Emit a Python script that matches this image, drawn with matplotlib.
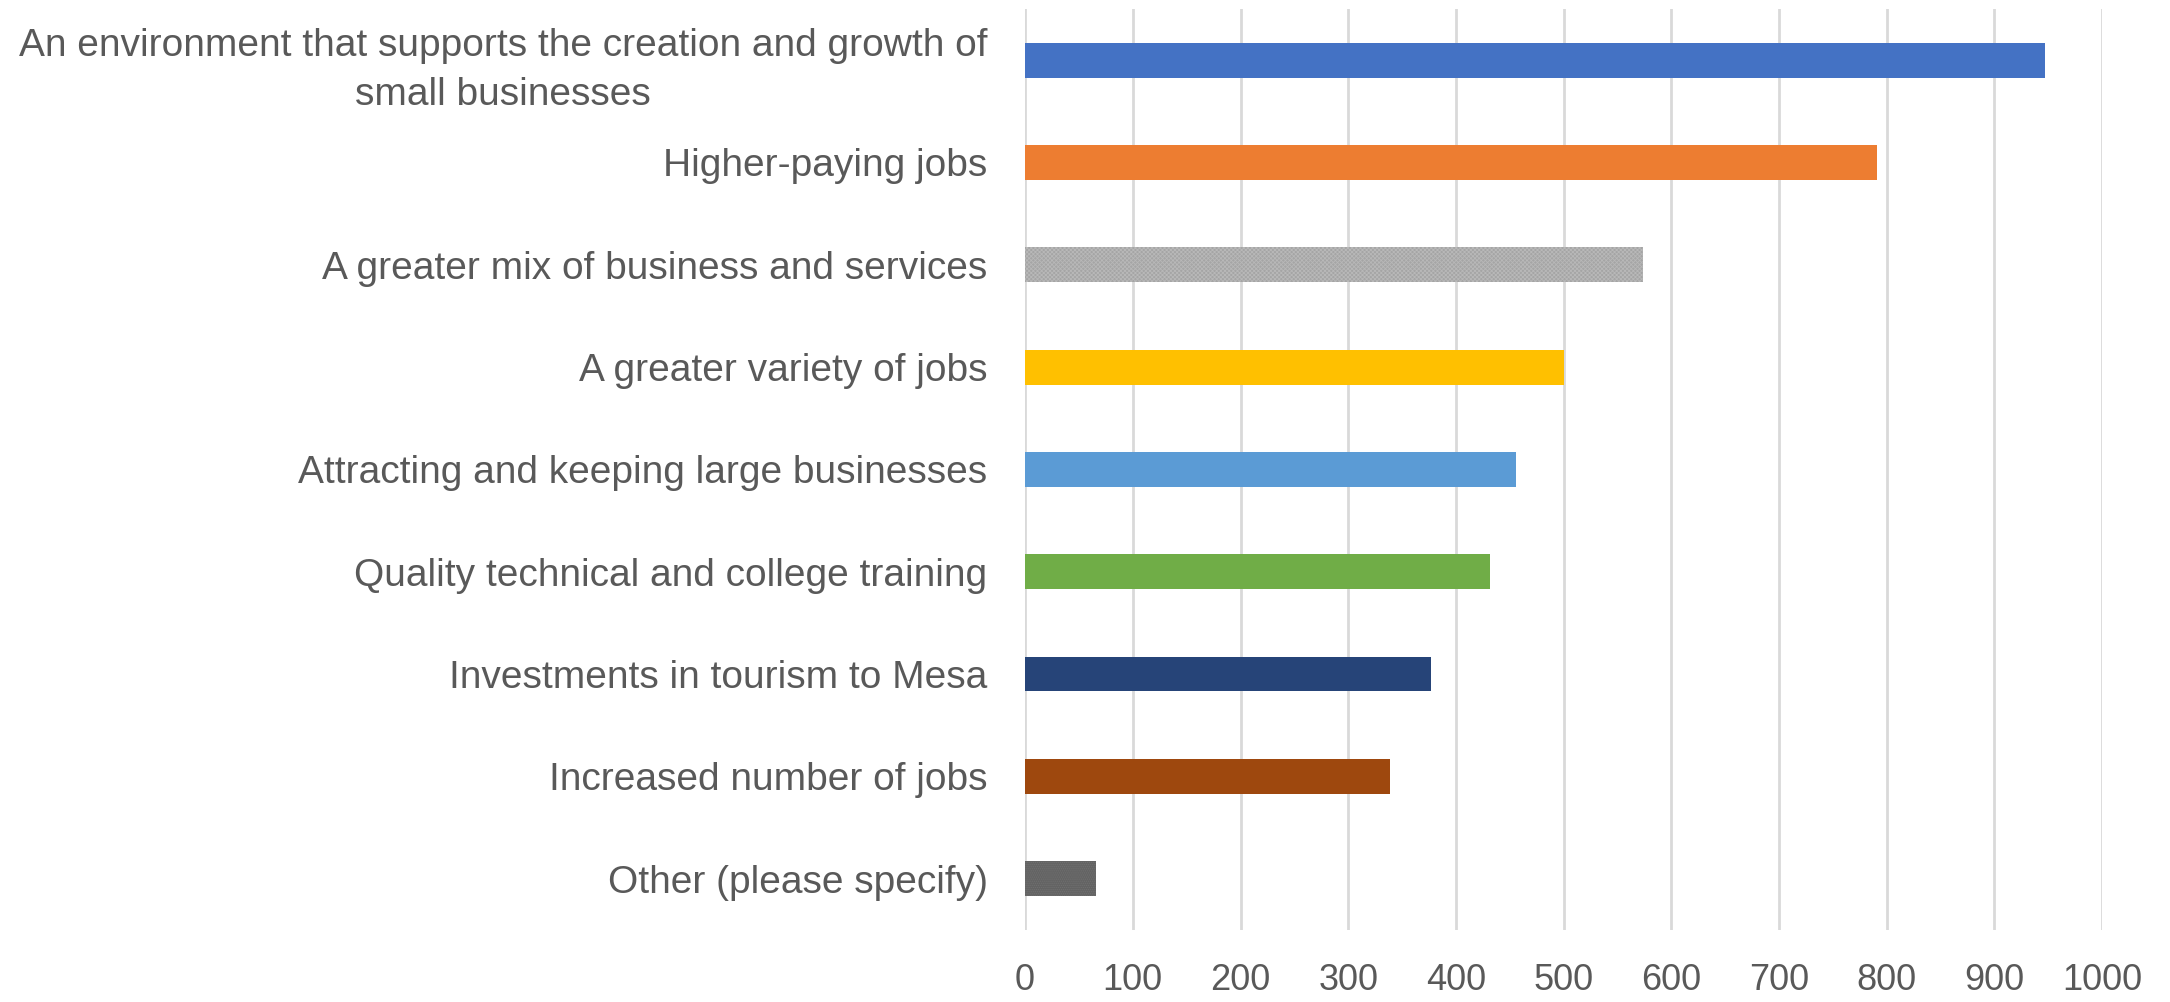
import matplotlib.pyplot as plt

# survey answers, top to bottom
labels = [
    "An environment that supports the creation and growth of\nsmall businesses",
    "Higher-paying jobs",
    "A greater mix of business and services",
    "A greater variety of jobs",
    "Attracting and keeping large businesses",
    "Quality technical and college training",
    "Investments in tourism to Mesa",
    "Increased number of jobs",
    "Other (please specify)",
]
counts = [947, 791, 574, 500, 456, 432, 377, 339, 66]
colors = ["#4472C4", "#ED7D31", "#A5A5A5", "#FFC000", "#5B9BD5",
          "#70AD47", "#264478", "#9E480E", "#636363"]
# patterned fills on the grey bars
hatches = [None, None, "xxxxxxxx", None, None, None, None, None, "........"]
xticks = list(range(0, 1001, 100))

plt.rcParams["font.family"] = ["Liberation Sans", "DejaVu Sans"]
plt.rcParams["hatch.linewidth"] = 0.6

fig = plt.figure(figsize=(21.7, 10.02), dpi=100)
ax = fig.add_axes([0.4724, 0.072, 0.4963, 0.919])

ypos = list(range(len(labels)))
for i in ypos:
    h = hatches[i]
    bar = ax.barh(i, counts[i], height=0.34, color=colors[i],
                  linewidth=0, hatch=h, zorder=3)
    if h:
        bar[0].set_edgecolor("#B8B8B8" if i == 2 else "#707070")

ax.set_ylim(len(labels) - 0.5, -0.5)
ax.set_xlim(0, 1000)
ax.set_xticks(xticks)
ax.set_yticks(ypos)
ax.set_yticklabels(labels, multialignment="center", linespacing=1.45)
ax.tick_params(axis="y", length=0, labelsize=28, colors="#595959", pad=27)
ax.tick_params(axis="x", length=0, labelsize=26, colors="#595959", pad=24)

# nudge the two-line label up a little
first = ax.get_yticklabels()[0]
first.set_y(-0.07)

ax.grid(axis="x", color="#D9D9D9", linewidth=2, zorder=0)
for s in ["top", "right", "bottom", "left"]:
    ax.spines[s].set_visible(False)

fig.savefig("out.png", dpi=100)
